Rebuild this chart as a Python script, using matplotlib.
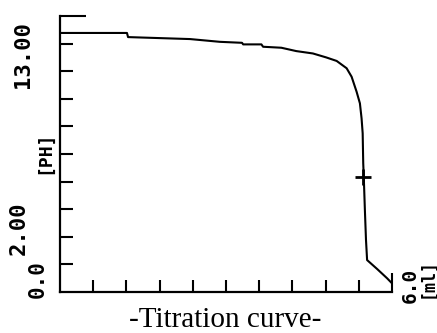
import matplotlib.pyplot as plt

# Titration curve (volume in ml, pH)
volume_ml = [0.0, 1.21, 1.23, 2.35, 2.89, 3.29, 3.31, 3.64, 3.67, 4.0, 4.27,
             4.57, 4.81, 5.0, 5.18, 5.27, 5.36, 5.42, 5.45, 5.47, 5.48,
             5.49, 5.51, 5.53, 5.55, 5.73, 5.91, 6.0]
ph = [13.14, 13.14, 12.93, 12.83, 12.69, 12.64, 12.56, 12.56, 12.44, 12.39,
      12.22, 12.10, 11.90, 11.72, 11.35, 10.92, 10.16, 9.57, 8.81, 8.05,
      6.53, 5.83, 4.16, 2.64, 1.62, 1.17, 0.70, 0.44]
endpoint = (5.476, 5.83)

x_max = 6.0
y_max = 14.0
x_ticks = [0.6 * i for i in range(1, 10)]
y_ticks = [1.4 * i for i in range(1, 10)]

fig = plt.figure(figsize=(4.37, 3.33), dpi=100)
ax = fig.add_axes([60 / 437, 41 / 333, 332 / 437, 276 / 333])

ax.plot(volume_ml, ph, color="black", linewidth=1.5)
ax.plot(*endpoint, marker="+", color="black", markersize=11, markeredgewidth=2)

ax.set_xlim(0, x_max)
ax.set_ylim(0, y_max)
for side in ["top", "right"]:
    ax.spines[side].set_visible(False)
for side in ["left", "bottom"]:
    ax.spines[side].set_linewidth(1.6)

ax.set_xticks(x_ticks)
ax.set_yticks(y_ticks)
ax.set_xticks([x_max], minor=True)
ax.set_yticks([y_max], minor=True)
ax.tick_params(which="major", direction="in", length=9, width=1.5,
               labelbottom=False, labelleft=False)
ax.tick_params(axis="x", which="minor", direction="in", length=14, width=1.5)
ax.tick_params(axis="y", which="minor", direction="in", length=19, width=1.5)

mono = dict(family="DejaVu Sans Mono", weight="bold", rotation=90,
            ha="center", va="center")
fig.text(23 / 437, 1 - 55 / 333, "13.00", fontsize=16, **mono)
fig.text(44 / 437, 1 - 152 / 333, "[PH]", fontsize=13, **mono)
fig.text(19 / 437, 1 - 228 / 333, "2.00", fontsize=16, **mono)
fig.text(38 / 437, 1 - 279 / 333, "0.0", fontsize=15, **mono)
fig.text(410 / 437, 1 - 285 / 333, "6.0", fontsize=14, **mono)
fig.text(428 / 437, 1 - 278 / 333, "[ml]", fontsize=12, **mono)

fig.text(225 / 437, 6 / 333, "-Titration curve-", family="Liberation Serif",
         fontsize=21, ha="center", va="baseline")

fig.savefig("out.png", dpi=100, facecolor="white")
